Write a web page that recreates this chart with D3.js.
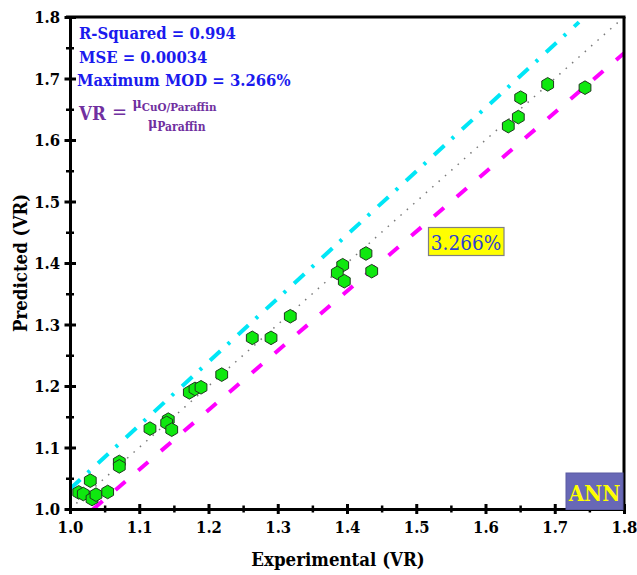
<!DOCTYPE html>
<html>
<head>
<meta charset="utf-8">
<script src="https://cdn.jsdelivr.net/npm/d3@7"></script>
<style>
  html, body { margin: 0; padding: 0; background: #fff; }
  svg { display: block; }
  text { font-family: "DejaVu Serif Condensed", "DejaVu Serif", serif; font-stretch: condensed; }
</style>
</head>
<body>
<svg id="chart" width="637" height="575"></svg>
<script>
// ---- data ----
const experimental = [1.0126, 1.0192, 1.0293, 1.0318, 1.0375, 1.0544, 1.0712, 1.0712, 1.1155, 1.1419,
  1.1396, 1.1469, 1.1723, 1.1805, 1.1892, 1.2191, 1.2632, 1.2903, 1.3181, 1.3938,
  1.3860, 1.3961, 1.4274, 1.4357, 1.6329, 1.6474, 1.6508, 1.6898, 1.7437];
const predicted = [1.0270, 1.0244, 1.0461, 1.0163, 1.0233, 1.0277, 1.0765, 1.0693, 1.1307, 1.1453,
  1.1400, 1.1290, 1.1897, 1.1953, 1.1979, 1.2185, 1.2783, 1.2783, 1.3134, 1.3964,
  1.3840, 1.3704, 1.4155, 1.3867, 1.6226, 1.6373, 1.6688, 1.6905, 1.6851];
const maxMOD = 0.03266;
const idealLineX = [1.0, 1.8];
const upperLineX = [1.0, 1.735];
const lowerLineX = [1.0, 1.8];
const majorTicks = [1.0, 1.1, 1.2, 1.3, 1.4, 1.5, 1.6, 1.7, 1.8];
const minorTicks = [1.05, 1.15, 1.25, 1.35, 1.45, 1.55, 1.65, 1.75];
const statsLines = ["R-Squared = 0.994", "MSE = 0.00034", "Maximum MOD = 3.266%"];
const modLabel = "3.266%";
const modelLabel = "ANN";

// ---- layout ----
const W = 637, H = 575;
const m = { left: 70, right: 13, top: 17, bottom: 66 };
const svg = d3.select("#chart");
const x = d3.scaleLinear().domain([1.0, 1.8]).range([m.left, W - m.right]);
const y = d3.scaleLinear().domain([1.0, 1.8]).range([H - m.bottom, m.top]);

svg.append("defs").append("clipPath").attr("id", "clip")
  .append("rect").attr("x", m.left).attr("y", m.top)
  .attr("width", x(1.8) - x(1.0)).attr("height", y(1.0) - y(1.8));

const lines = svg.append("g").attr("clip-path", "url(#clip)");
const lineGen = d3.line().x(d => x(d[0])).y(d => y(d[1]));

// ideal y = x (dotted gray)
lines.append("path")
  .attr("d", lineGen(idealLineX.map(v => [v, v])))
  .attr("stroke", "#7a7a7a").attr("stroke-width", 1.5)
  .attr("stroke-dasharray", "1.5,7").attr("fill", "none");
// upper bound (cyan dash-dot)
lines.append("path")
  .attr("d", lineGen(upperLineX.map(v => [v, v * (1 + maxMOD)])))
  .attr("stroke", "#00e6f6").attr("stroke-width", 4)
  .attr("stroke-dasharray", "14,10,3,11").attr("fill", "none");
// lower bound (magenta dashed)
lines.append("path")
  .attr("d", lineGen(lowerLineX.map(v => [v, v * (1 - maxMOD)])))
  .attr("stroke", "#ff00ff").attr("stroke-width", 4)
  .attr("stroke-dasharray", "13,17").attr("fill", "none");

// hexagon markers
const R = 6.8;
const hex = d3.range(6).map(i => {
  const a = Math.PI / 2 + i * Math.PI / 3;
  return [R * Math.cos(a), R * Math.sin(a)];
});
const hexPath = "M" + hex.map(p => p.join(",")).join("L") + "Z";
svg.append("g").selectAll("path").data(experimental.map((e, i) => [e, predicted[i]]))
  .join("path")
  .attr("d", hexPath)
  .attr("transform", d => `translate(${x(d[0])},${y(d[1])})`)
  .attr("fill", "#0fe80f").attr("stroke", "#1e3a1e").attr("stroke-width", 1);

// axes
function styleAxis(g, isX) {
  g.select(".domain").attr("stroke", "#000").attr("stroke-width", 3);
  g.selectAll(".tick line").attr("stroke", "#000").attr("stroke-width", 3);
}
const xAxisMinor = d3.axisBottom(x).tickValues(minorTicks).tickSize(0).tickFormat("");
const gxm = svg.append("g").attr("transform", `translate(0,${y(1.0)})`).call(xAxisMinor);
gxm.select(".domain").remove();
gxm.selectAll(".tick line").attr("y1", -3.5).attr("y2", 3.5).attr("stroke", "#000").attr("stroke-width", 2.5);
const yAxisMinor = d3.axisLeft(y).tickValues(minorTicks).tickSize(0).tickFormat("");
const gym = svg.append("g").attr("transform", `translate(${x(1.0)},0)`).call(yAxisMinor);
gym.select(".domain").remove();
gym.selectAll(".tick line").attr("x1", -4).attr("x2", 4).attr("stroke", "#000").attr("stroke-width", 2.5);

const xAxis = d3.axisBottom(x).tickValues(majorTicks).tickFormat(d3.format(".1f")).tickSizeOuter(0);
const gx = svg.append("g").attr("transform", `translate(0,${y(1.0)})`).call(xAxis);
styleAxis(gx, true);
gx.selectAll(".tick line").attr("y1", -5).attr("y2", 5);
gx.selectAll(".tick text").attr("y", 24).attr("dy", 0)
  .attr("font-size", 16.5).attr("font-weight", "bold").attr("fill", "#000")
  .style("font-family", '"DejaVu Serif Condensed", "DejaVu Serif", serif');

const yAxis = d3.axisLeft(y).tickValues(majorTicks).tickFormat(d3.format(".1f")).tickSizeOuter(0);
const gy = svg.append("g").attr("transform", `translate(${x(1.0)},0)`).call(yAxis);
styleAxis(gy, false);
gy.selectAll(".tick line").attr("x1", -5.5).attr("x2", 6);
gy.selectAll(".tick text").attr("x", -10).attr("dy", "0.36em")
  .attr("font-size", 16.5).attr("font-weight", "bold").attr("fill", "#000")
  .style("font-family", '"DejaVu Serif Condensed", "DejaVu Serif", serif');

// top and right frame
svg.append("line").attr("x1", x(1.0) - 4).attr("x2", x(1.8) + 1.5).attr("y1", y(1.8)).attr("y2", y(1.8))
  .attr("stroke", "#000").attr("stroke-width", 3);
svg.append("line").attr("x1", x(1.8)).attr("x2", x(1.8)).attr("y1", y(1.8)).attr("y2", y(1.0))
  .attr("stroke", "#000").attr("stroke-width", 3);

// axis titles
svg.append("text").attr("x", 338).attr("y", 566).attr("text-anchor", "middle")
  .attr("font-size", 18.5).attr("font-weight", "bold").text("Experimental (VR)");
svg.append("text").attr("transform", `translate(27,${(y(1.0) + y(1.8)) / 2}) rotate(-90)`)
  .attr("text-anchor", "middle").attr("font-size", 18.5).attr("font-weight", "bold")
  .text("Predicted (VR)");

// stats
const statY = [39, 63, 86];
statsLines.forEach((t, i) => {
  svg.append("text").attr("x", i === 2 ? 77 : 79).attr("y", statY[i])
    .attr("font-size", 16.5).attr("font-weight", "bold").attr("fill", "#1a1aee").text(t);
});

// VR formula
const purple = "#7030a0";
svg.append("text").attr("x", 79).attr("y", 119.5).attr("font-size", 18.5)
  .attr("font-weight", "bold").attr("fill", purple).text("VR");
svg.append("text").attr("x", 112).attr("y", 119).attr("font-size", 20)
  .attr("fill", purple).text("=");
const num = svg.append("text").attr("x", 132.5).attr("y", 108).attr("fill", purple).attr("font-weight", "bold");
num.append("tspan").attr("font-size", 14).text("μ");
num.append("tspan").attr("font-size", 11.5).attr("dy", 3).text("CuO/Paraffin");
const den = svg.append("text").attr("x", 148).attr("y", 128).attr("fill", purple).attr("font-weight", "bold");
den.append("tspan").attr("font-size", 14).text("μ");
den.append("tspan").attr("font-size", 12).attr("dy", 3).text("Paraffin");

// 3.266% label
svg.append("rect").attr("x", 428.5).attr("y", 227.5).attr("width", 75.5).attr("height", 28)
  .attr("fill", "#ffff00").attr("stroke", "#808080").attr("stroke-width", 1.2);
svg.append("text").attr("x", 466).attr("y", 250).attr("text-anchor", "middle")
  .attr("font-size", 20.5).attr("fill", "#2f3fd0").text(modLabel);

// ANN label
svg.append("rect").attr("x", 566).attr("y", 473).attr("width", 57).attr("height", 36.5)
  .attr("fill", "#6868b6").attr("stroke", "#5a5aa2").attr("stroke-width", 1);
svg.append("text").attr("x", 594.5).attr("y", 501).attr("text-anchor", "middle")
  .attr("font-size", 22).attr("font-weight", "bold").attr("fill", "#ffff00").text(modelLabel);
</script>
</body>
</html>
